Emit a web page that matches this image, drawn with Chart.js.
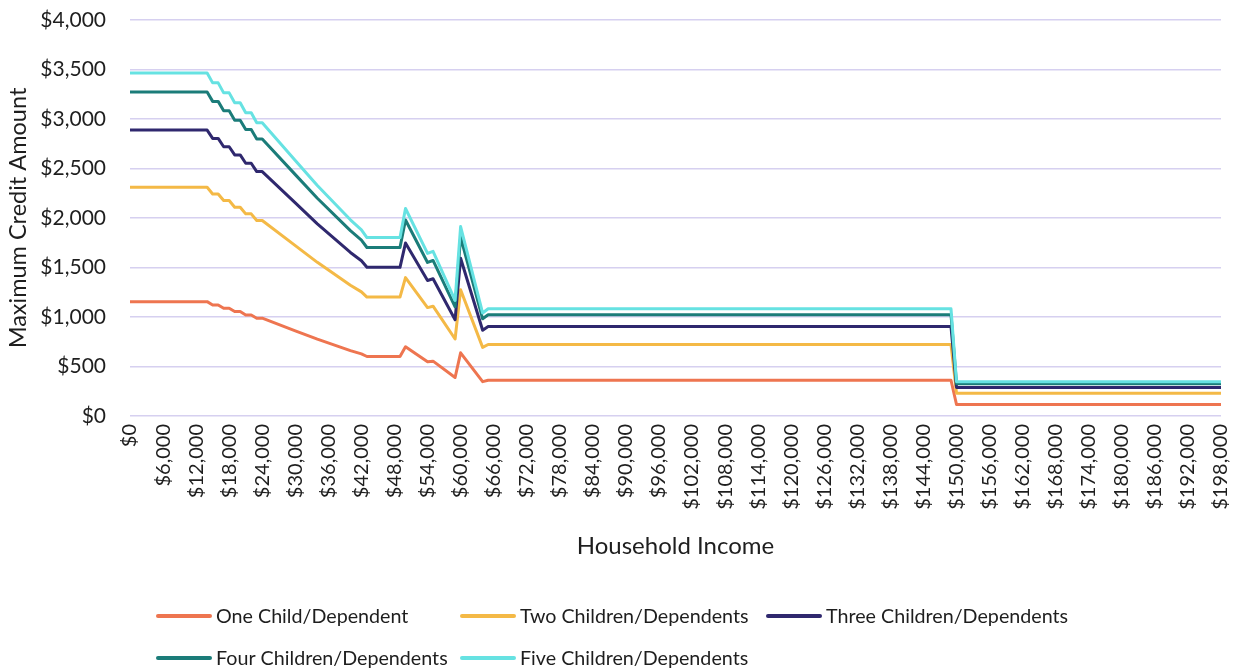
<!DOCTYPE html>
<html>
<head>
<meta charset="utf-8">
<script src="https://cdn.jsdelivr.net/npm/chart.js@4/dist/chart.umd.min.js"></script>
<style>
  html, body { margin: 0; padding: 0; background: #ffffff; }
  canvas { display: block; }
</style>
</head>
<body>
<canvas id="chart" width="1238" height="670"></canvas>
<script>
// Household income breakpoints (dollars) where the credit schedule changes
const incomes = [0, 14000, 15000, 16000, 17000, 18000, 19000, 20000, 21000, 22000, 23000, 24000,
  30000, 34000, 40000, 42000, 43000, 49000, 50000, 54000, 55000, 59000, 60000, 64000, 65000,
  149000, 150000, 198000];

// Maximum credit amount at each breakpoint, by number of children/dependents
const oneChild = [1155, 1155, 1122, 1122, 1088, 1088, 1055, 1055, 1021, 1021, 988, 988,
  860, 776, 661, 627, 601, 601, 699, 547, 554, 389, 638, 347, 361, 361, 116, 116];
const twoChildren = [2310, 2310, 2243, 2243, 2176, 2176, 2109, 2109, 2042, 2042, 1975, 1975,
  1721, 1552, 1321, 1254, 1201, 1201, 1398, 1095, 1109, 778, 1275, 693, 722, 722, 231, 231];
const threeChildren = [2888, 2888, 2804, 2804, 2720, 2720, 2637, 2637, 2553, 2553, 2469, 2469,
  2152, 1941, 1652, 1568, 1502, 1502, 1747, 1369, 1386, 973, 1594, 866, 903, 903, 289, 289];
const fourChildren = [3273, 3273, 3178, 3178, 3083, 3083, 2988, 2988, 2893, 2893, 2798, 2798,
  2438, 2199, 1872, 1777, 1702, 1702, 1980, 1551, 1571, 1103, 1807, 982, 1023, 1023, 327, 327];
const fiveChildren = [3465, 3465, 3365, 3365, 3264, 3264, 3164, 3164, 3063, 3063, 2963, 2963,
  2581, 2328, 1982, 1881, 1802, 1802, 2096, 1642, 1663, 1168, 1913, 1040, 1083, 1083, 347, 347];

const seriesLabels = ['One Child/Dependent', 'Two Children/Dependents', 'Three Children/Dependents',
  'Four Children/Dependents', 'Five Children/Dependents'];
const seriesColors = ['#EE7550', '#F4B946', '#2F286E', '#1B7C79', '#66E2E2'];
const seriesValues = [oneChild, twoChildren, threeChildren, fourChildren, fiveChildren];

// Axis ranges and tick spacing
const incomeMin = 0, incomeMax = 198000, incomeStep = 6000;
const creditMin = 0, creditMax = 4000, creditStep = 500;

const FONT = 'Lato, "Open Sans", "Liberation Sans", sans-serif';
const TEXT = '#1e1e1e';

const money = v => '$' + Number(v).toLocaleString('en-US');

// Legend drawn as a fixed three-column grid below the axis title
const gridLegend = {
  id: 'gridLegend',
  afterDraw(chart) {
    const ctx = chart.ctx;
    const cols = [158, 462, 768];
    const rows = [616, 658];
    chart.data.datasets.forEach((ds, i) => {
      const x = cols[i % 3];
      const y = rows[Math.floor(i / 3)];
      ctx.save();
      ctx.strokeStyle = ds.borderColor;
      ctx.lineWidth = 4;
      ctx.lineCap = 'round';
      ctx.beginPath();
      ctx.moveTo(x, y);
      ctx.lineTo(x + 52, y);
      ctx.stroke();
      ctx.fillStyle = TEXT;
      ctx.font = '19.7px ' + FONT;
      ctx.textBaseline = 'middle';
      ctx.textAlign = 'left';
      ctx.fillText(ds.label, x + 58, y + 1);
      ctx.restore();
    });
  }
};

const datasets = seriesValues.map((vals, i) => ({
  label: seriesLabels[i],
  data: incomes.map((x, j) => ({ x: x, y: vals[j] })),
  borderColor: seriesColors[i],
  backgroundColor: seriesColors[i],
  borderWidth: 3,
  pointRadius: 0,
  pointHoverRadius: 0,
  tension: 0,
  fill: false,
  borderJoinStyle: 'round',
  borderCapStyle: 'round',
  order: seriesValues.length - i
}));

function draw() {
  new Chart(document.getElementById('chart'), {
    type: 'line',
    data: { datasets },
    plugins: [gridLegend],
    options: {
      responsive: false,
      animation: false,
      devicePixelRatio: 1,
      layout: { padding: { top: 20, right: 17, bottom: 109, left: 0 } },
      plugins: {
        legend: { display: false },
        tooltip: { enabled: false }
      },
      scales: {
        x: {
          type: 'linear',
          min: incomeMin,
          max: incomeMax,
          afterFit(scale) {
            scale.height = 145;
            scale.paddingLeft = 0;
            scale.paddingRight = 0;
          },
          grid: { display: false, drawTicks: false },
          border: { display: false },
          ticks: {
            stepSize: incomeStep,
            autoSkip: false,
            minRotation: 90,
            maxRotation: 90,
            padding: 8,
            color: TEXT,
            font: { family: FONT, size: 20 },
            callback: v => money(v)
          },
          title: {
            display: true,
            text: 'Household Income',
            color: TEXT,
            font: { family: FONT, size: 24 },
            padding: 0
          }
        },
        y: {
          min: creditMin,
          max: creditMax,
          afterFit(scale) {
            scale.width = 130;
            scale.paddingTop = 0;
            scale.paddingBottom = 0;
          },
          grid: { color: '#D6D0F0', lineWidth: 1.5, drawTicks: false },
          border: { display: false },
          ticks: {
            stepSize: creditStep,
            padding: 24,
            color: TEXT,
            font: { family: FONT, size: 21 },
            callback: v => money(v)
          },
          title: {
            display: true,
            text: 'Maximum Credit Amount',
            color: TEXT,
            font: { family: FONT, size: 23.5 },
            padding: { top: 4, bottom: 0 }
          }
        }
      }
    }
  });
}

if (document.fonts && document.fonts.load) {
  Promise.all([document.fonts.load('20px Lato'), document.fonts.load('19px Lato')]).then(draw, draw);
} else {
  draw();
}
</script>
</body>
</html>
